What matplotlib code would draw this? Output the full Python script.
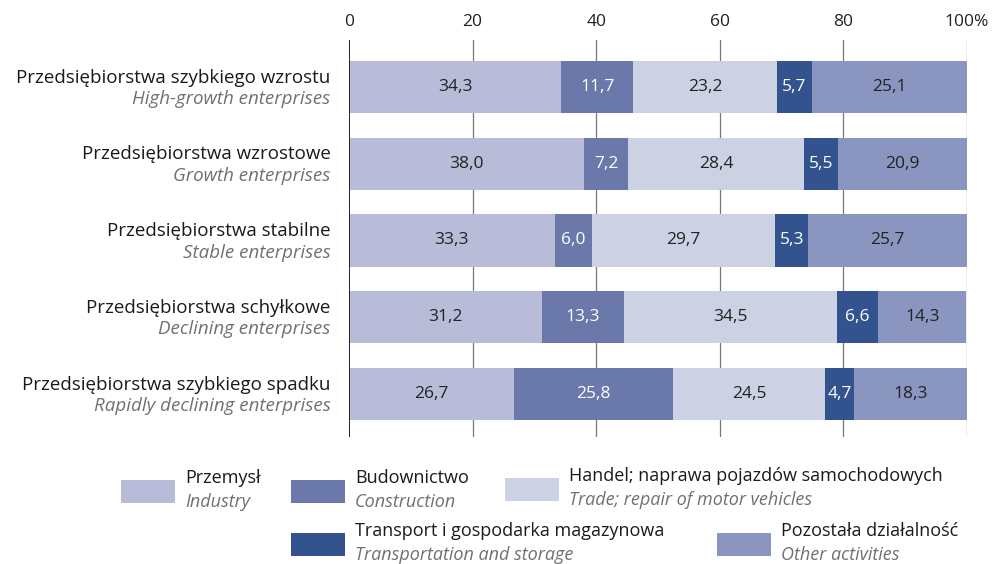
import numpy as np
import matplotlib
matplotlib.use("Agg")
import matplotlib.pyplot as plt
from matplotlib.patches import Rectangle

plt.rcParams["font.family"] = ["Open Sans", "DejaVu Sans"]

# dane
groups_pl = ["Przedsiębiorstwa szybkiego wzrostu", "Przedsiębiorstwa wzrostowe",
             "Przedsiębiorstwa stabilne", "Przedsiębiorstwa schyłkowe",
             "Przedsiębiorstwa szybkiego spadku"]
groups_en = ["High-growth enterprises", "Growth enterprises", "Stable enterprises",
             "Declining enterprises", "Rapidly declining enterprises"]

sectors_pl = ["Przemysł", "Budownictwo", "Handel; naprawa pojazdów samochodowych",
              "Transport i gospodarka magazynowa", "Pozostała działalność"]
sectors_en = ["Industry", "Construction", "Trade; repair of motor vehicles",
              "Transportation and storage", "Other activities"]

przemysl = [34.3, 38.0, 33.3, 31.2, 26.7]
budownictwo = [11.7, 7.2, 6.0, 13.3, 25.8]
handel = [23.2, 28.4, 29.7, 34.5, 24.5]
transport = [5.7, 5.5, 5.3, 6.6, 4.7]
pozostala = [25.1, 20.9, 25.7, 14.3, 18.3]

x_ticks = [0, 20, 40, 60, 80, 100]
x_tick_labels = ["0", "20", "40", "60", "80", "100%"]

colors = ["#b8bcd8", "#6b78aa", "#cdd1e4", "#33538e", "#8a96bf"]
text_colors = ["#222222", "white", "#222222", "white", "#222222"]

series = [przemysl, budownictwo, handel, transport, pozostala]

fig = plt.figure(figsize=(10.04, 5.64), dpi=100)
ax = fig.add_axes([349 / 1004, 1 - 437 / 564, (967 - 349) / 1004, (437 - 40) / 564])

y = np.arange(len(groups_pl))
left = np.zeros(len(groups_pl))
for vals, c, tc in zip(series, colors, text_colors):
    vals = np.array(vals)
    ax.barh(y, vals, left=left, height=0.68, color=c, zorder=2)
    for yi, l, v in zip(y, left, vals):
        ax.text(l + v / 2, yi, f"{v:.1f}".replace(".", ","), ha="center", va="center",
                fontsize=12.5, color=tc, zorder=3)
    left += vals

ax.set_xlim(0, 100)
ax.set_ylim(4.56, -0.61)
ax.xaxis.tick_top()
ax.set_xticks(x_ticks)
ax.set_xticklabels(x_tick_labels, fontsize=12.5, color="#222222")
ax.tick_params(axis="x", length=0, pad=7)
ax.set_yticks([])
for s in ax.spines.values():
    s.set_visible(False)
for t in x_ticks[1:]:
    ax.axvline(t, color="#777777", lw=0.9, zorder=1)
ax.axvline(0, color="#222222", lw=1.4, zorder=4)

# etykiety kategorii
for yi, pl, en in zip(y, groups_pl, groups_en):
    ax.text(-3, yi - 0.12, pl, ha="right", va="center", fontsize=13.5, color="#1a1a1a",
            clip_on=False)
    ax.text(-3, yi + 0.16, en, ha="right", va="center", fontsize=13.5, color="#707070",
            style="italic", clip_on=False)

# legenda
leg_pos = [(121, 480), (291, 480), (505, 478), (291, 533), (717, 533)]
for (px, py), c, pl, en in zip(leg_pos, colors, sectors_pl, sectors_en):
    fig.patches.append(Rectangle((px / 1004, 1 - (py + 23) / 564), 54 / 1004, 23 / 564,
                                 facecolor=c, transform=fig.transFigure))
    fig.text((px + 64) / 1004, 1 - (py - 2) / 564, pl, ha="left", va="center",
             fontsize=13, color="#1a1a1a")
    fig.text((px + 64) / 1004, 1 - (py + 22) / 564, en, ha="left", va="center",
             fontsize=13, color="#707070", style="italic")

fig.savefig("out.png", dpi=100, facecolor="white")
